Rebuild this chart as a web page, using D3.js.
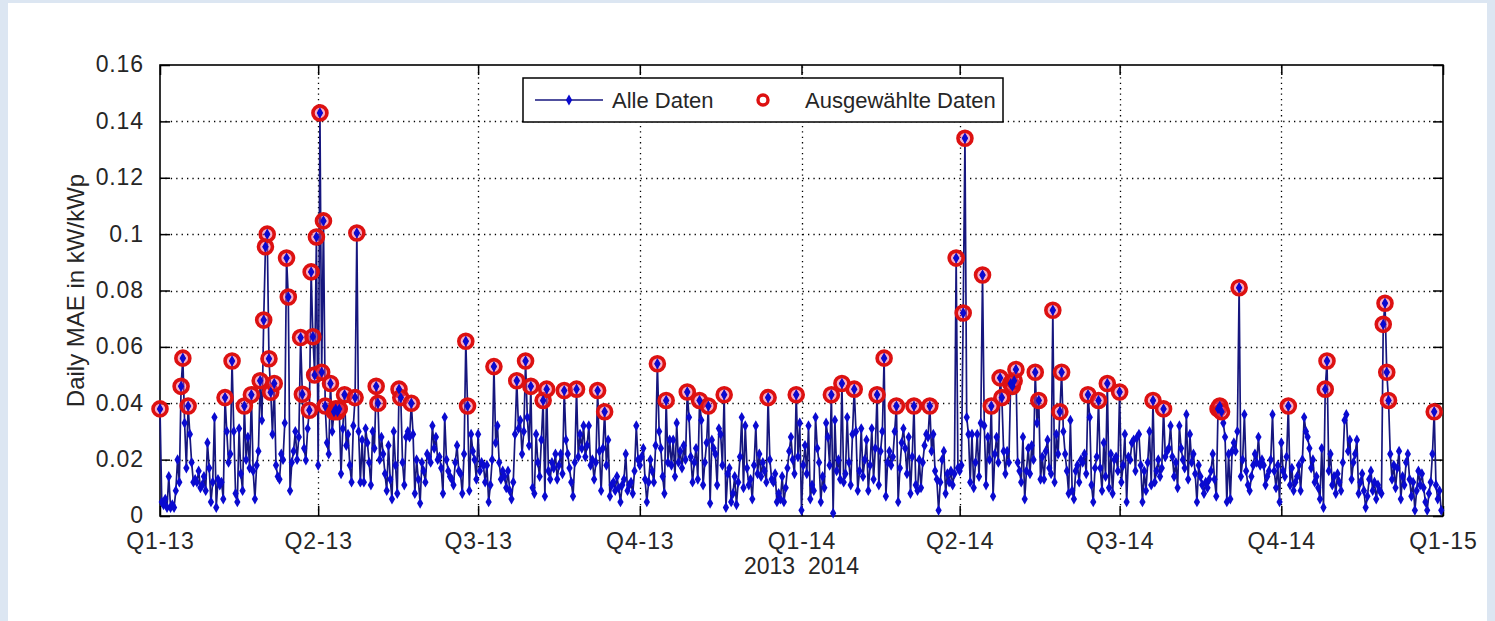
<!DOCTYPE html>
<html>
<head>
<meta charset="utf-8">
<style>
  html, body { margin: 0; padding: 0; background: #fff; }
  svg { display: block; }
  text { font-family: "Liberation Sans", Arial, sans-serif; fill: #262626; }
</style>
</head>
<body>
<svg width="1495" height="621"></svg>
<script src="https://cdn.jsdelivr.net/npm/d3@7/dist/d3.min.js"></script>
<script>

// daily MAE in kW/kWp, one value per day starting 1 Jan
var mae2013 = [
  0.038,0.005,0.004,0.006,0.003,0.014,0.003,0.004,0.003,0.009,
  0.020,0.012,0.046,0.056,0.033,0.017,0.039,0.029,0.019,0.012,
  0.013,0.012,0.016,0.010,0.011,0.014,0.009,0.026,0.017,0.005,
  0.012,0.035,0.003,0.013,0.011,0.012,0.006,0.042,0.030,0.019,
  0.022,0.055,0.030,0.008,0.005,0.031,0.015,0.009,0.039,0.020,
  0.028,0.017,0.043,0.016,0.006,0.018,0.023,0.048,0.034,0.0695,
  0.0955,0.100,0.0558,0.0439,0.029,0.047,0.018,0.014,0.013,0.022,
  0.020,0.033,0.0915,0.0777,0.009,0.019,0.023,0.030,0.020,0.028,
  0.0633,0.0432,0.024,0.0198,0.031,0.0375,0.0866,0.0636,0.050,0.099,
  0.018,0.143,0.051,0.1047,0.039,0.026,0.022,0.047,0.030,0.037,
  0.038,0.037,0.038,0.015,0.031,0.043,0.025,0.029,0.018,0.012,
  0.032,0.042,0.1004,0.030,0.012,0.027,0.012,0.031,0.026,0.019,
  0.011,0.030,0.024,0.046,0.040,0.020,0.028,0.022,0.015,0.009,
  0.025,0.013,0.006,0.030,0.018,0.008,0.045,0.042,0.019,0.011,
  0.028,0.030,0.028,0.040,0.029,0.008,0.020,0.013,0.0045,0.019,
  0.016,0.012,0.022,0.021,0.019,0.032,0.024,0.028,0.020,0.021,
  0.017,0.008,0.035,0.020,0.016,0.014,0.013,0.011,0.019,0.025,
  0.016,0.015,0.008,0.022,0.062,0.039,0.009,0.029,0.023,0.020,
  0.013,0.029,0.016,0.019,0.018,0.012,0.018,0.005,0.011,0.020,
  0.053,0.026,0.032,0.019,0.013,0.016,0.014,0.010,0.016,0.009,
  0.006,0.012,0.029,0.048,0.031,0.034,0.022,0.030,0.055,0.035,
  0.025,0.046,0.010,0.008,0.029,0.019,0.014,0.027,0.041,0.007,
  0.045,0.016,0.013,0.019,0.017,0.022,0.013,0.018,0.022,0.015,
  0.0445,0.027,0.022,0.017,0.012,0.007,0.019,0.045,0.021,0.029,
  0.024,0.032,0.021,0.025,0.032,0.018,0.020,0.013,0.019,0.0445,
  0.023,0.009,0.024,0.037,0.018,0.027,0.007,0.011,0.012,0.009,
  0.014,0.010,0.005,0.011,0.013,0.022,0.009,0.011,0.012,0.008,
  0.016,0.032,0.020,0.018,0.021,0.024,0.013,0.005,0.012,0.020,
  0.016,0.012,0.025,0.054,0.030,0.024,0.014,0.008,0.041,0.019,
  0.027,0.018,0.027,0.014,0.033,0.019,0.023,0.017,0.025,0.020,
  0.044,0.035,0.021,0.012,0.019,0.024,0.013,0.041,0.034,0.011,
  0.019,0.026,0.039,0.0045,0.027,0.024,0.022,0.011,0.031,0.029,
  0.018,0.043,0.003,0.015,0.017,0.005,0.008,0.014,0.004,0.012,
  0.021,0.035,0.010,0.032,0.017,0.011,0.013,0.006,0.018,0.032,
  0.015,0.022,0.014,0.019,0.016,0.012,0.042,0.020,0.013,0.012,
  0.015,0.005,0.008,0.006,0.014,0.005,0.010,0.017,0.023,0.028,
  0.020,0.015,0.043,0.021,0.033
];

var mae2014 = [
  0.002,0.018,0.025,0.015,0.032,0.006,0.011,0.009,0.035,0.024,
  0.019,0.005,0.014,0.010,0.033,0.028,0.018,0.043,0.001,0.034,
  0.016,0.020,0.013,0.047,0.012,0.015,0.035,0.019,0.011,0.029,
  0.045,0.030,0.009,0.016,0.031,0.014,0.020,0.027,0.009,0.018,
  0.031,0.013,0.024,0.043,0.011,0.023,0.030,0.056,0.007,0.019,
  0.023,0.018,0.021,0.030,0.039,0.005,0.017,0.026,0.031,0.024,
  0.015,0.028,0.008,0.021,0.039,0.011,0.009,0.020,0.010,0.019,
  0.025,0.029,0.028,0.039,0.023,0.029,0.016,0.013,0.002,0.012,
  0.020,0.023,0.008,0.015,0.012,0.016,0.011,0.015,0.0915,0.017,
  0.016,0.018,0.072,0.134,0.035,0.029,0.012,0.029,0.010,0.019,
  0.029,0.014,0.033,0.0855,0.032,0.011,0.028,0.020,0.039,0.007,
  0.022,0.028,0.019,0.049,0.042,0.023,0.015,0.023,0.019,0.047,
  0.046,0.048,0.052,0.019,0.016,0.012,0.028,0.006,0.016,0.024,
  0.015,0.025,0.020,0.051,0.033,0.041,0.013,0.021,0.013,0.023,
  0.027,0.017,0.015,0.073,0.012,0.029,0.022,0.037,0.051,0.030,
  0.022,0.016,0.008,0.034,0.009,0.006,0.016,0.018,0.012,0.020,
  0.019,0.022,0.015,0.043,0.035,0.011,0.005,0.017,0.021,0.041,
  0.017,0.009,0.026,0.014,0.047,0.010,0.022,0.008,0.020,0.021,
  0.016,0.044,0.012,0.018,0.029,0.005,0.021,0.020,0.026,0.027,
  0.016,0.028,0.029,0.018,0.005,0.016,0.009,0.019,0.030,0.011,
  0.041,0.012,0.016,0.020,0.014,0.017,0.038,0.021,0.023,0.024,
  0.032,0.021,0.014,0.019,0.010,0.032,0.024,0.020,0.017,0.036,
  0.013,0.029,0.019,0.022,0.015,0.005,0.018,0.014,0.011,0.008,
  0.012,0.010,0.013,0.016,0.022,0.013,0.007,0.038,0.039,0.037,
  0.033,0.028,0.005,0.022,0.006,0.023,0.026,0.023,0.030,0.081,
  0.014,0.020,0.036,0.016,0.011,0.009,0.014,0.018,0.022,0.019,
  0.028,0.018,0.020,0.018,0.011,0.014,0.016,0.020,0.036,0.016,
  0.010,0.018,0.005,0.026,0.016,0.014,0.021,0.039,0.011,0.017,
  0.009,0.012,0.014,0.018,0.009,0.020,0.035,0.030,0.028,0.024,
  0.017,0.020,0.012,0.014,0.010,0.006,0.024,0.003,0.045,0.055,
  0.016,0.022,0.011,0.014,0.008,0.015,0.012,0.009,0.019,0.034,
  0.036,0.023,0.027,0.013,0.019,0.022,0.027,0.008,0.012,0.015,
  0.009,0.003,0.007,0.013,0.016,0.009,0.012,0.006,0.011,0.009,
  0.008,0.068,0.0755,0.051,0.041,0.022,0.013,0.018,0.010,0.017,
  0.023,0.006,0.014,0.011,0.019,0.022,0.013,0.007,0.012,0.002,
  0.009,0.016,0.011,0.015,0.010,0.005,0.002,0.008,0.012,0.022,
  0.037,0.011,0.006,0.009,0.002
];

var quarterLabels = ["Q1-13", "Q2-13", "Q3-13", "Q4-13", "Q1-14", "Q2-14", "Q3-14", "Q4-14", "Q1-15"];
var yTickValues = [0, 0.02, 0.04, 0.06, 0.08, 0.1, 0.12, 0.14, 0.16];
var selectThreshold = 0.0365;   // days marked as "Ausgewählte Daten"

var svg = d3.select("svg"),
    width = +svg.attr("width"),
    height = +svg.attr("height");

var margin = {top: 65, right: 52, bottom: 105, left: 160},
    x0 = margin.left, x1 = width - margin.right,
    y0 = height - margin.bottom, y1 = margin.top;

var start = new Date(2013, 0, 1),
    end = new Date(2015, 0, 1);

var data = mae2013.concat(mae2014).map(function(v, i) {
  return {date: d3.timeDay.offset(start, i), value: v};
});
var selected = data.filter(function(d) { return d.value >= selectThreshold; });

var x = d3.scaleTime().domain([start, end]).range([x0, x1]);
var y = d3.scaleLinear().domain([0, 0.16]).range([y0, y1]);
var quarters = d3.timeMonth.every(3).range(start, d3.timeDay.offset(end, 1));

// figure background
svg.append("rect").attr("width", width).attr("height", height).attr("fill", "#dce6f2");
svg.append("rect").attr("x", 8).attr("y", 3).attr("width", width - 16).attr("height", height - 3).attr("fill", "#fff");

// dotted grid
var grid = svg.append("g")
    .attr("stroke", "#000")
    .attr("stroke-width", 1.3)
    .attr("stroke-dasharray", "1.3,4.1");

grid.selectAll("line.v")
  .data(quarters.slice(1, -1))
  .enter().append("line")
    .attr("x1", function(d) { return Math.round(x(d)) + 0.5; })
    .attr("x2", function(d) { return Math.round(x(d)) + 0.5; })
    .attr("y1", y0).attr("y2", y1);

grid.selectAll("line.h")
  .data(yTickValues.slice(1, -1))
  .enter().append("line")
    .attr("y1", function(d) { return Math.round(y(d)) + 0.5; })
    .attr("y2", function(d) { return Math.round(y(d)) + 0.5; })
    .attr("x1", x0).attr("x2", x1);

// axes, MATLAB style: inward ticks on all four sides
var tickLen = 10;
var fmtY = function(d) { return String(+d.toFixed(2)); };

svg.append("g")
    .attr("transform", "translate(0," + y0 + ")")
    .call(d3.axisBottom(x).tickValues(quarters).tickSize(-tickLen).tickPadding(tickLen + 7)
      .tickFormat(function(d, i) { return quarterLabels[i]; }));

var gy = svg.append("g")
    .attr("transform", "translate(" + x0 + ",0)")
    .call(d3.axisLeft(y).tickValues(yTickValues).tickSize(-tickLen).tickPadding(tickLen + 6).tickFormat(fmtY));
gy.selectAll(".tick text").attr("dy", "0.3em");

svg.append("g")
    .attr("transform", "translate(0," + y1 + ")")
    .call(d3.axisTop(x).tickValues(quarters).tickSize(-tickLen).tickFormat(""));

svg.append("g")
    .attr("transform", "translate(" + x1 + ",0)")
    .call(d3.axisRight(y).tickValues(yTickValues).tickSize(-tickLen).tickFormat(""));

svg.selectAll(".domain").remove();
svg.selectAll(".tick line").attr("stroke", "#000").attr("stroke-width", 1.5);
svg.selectAll(".tick text")
    .attr("font-family", "Liberation Sans, Arial, sans-serif")
    .attr("font-size", 23)
    .attr("letter-spacing", 0.9)
    .attr("fill", "#2a2a2a");

svg.append("rect")
    .attr("x", x0).attr("y", y1)
    .attr("width", x1 - x0).attr("height", y0 - y1)
    .attr("fill", "none")
    .attr("stroke", "#000")
    .attr("stroke-width", 1.6);

// series
var line = d3.line()
    .x(function(d) { return x(d.date); })
    .y(function(d) { return y(d.value); });

svg.append("path")
    .datum(data)
    .attr("fill", "none")
    .attr("stroke", "#16167e")
    .attr("stroke-width", 1.7)
    .attr("d", line);

var diamond = d3.symbol().type(d3.symbolDiamond).size(34);

svg.append("g")
    .attr("fill", "#0a0ad0")
  .selectAll("path")
  .data(data)
  .enter().append("path")
    .attr("transform", function(d) { return "translate(" + x(d.date) + "," + y(d.value) + ")"; })
    .attr("d", diamond);

svg.append("g")
    .attr("fill", "#e8508a")
    .attr("fill-opacity", 0.45)
    .attr("stroke", "#dd1111")
    .attr("stroke-width", 3.6)
  .selectAll("circle")
  .data(selected)
  .enter().append("circle")
    .attr("cx", function(d) { return x(d.date); })
    .attr("cy", function(d) { return y(d.value); })
    .attr("r", 7);

// blue markers stay visible inside the red rings
svg.append("g")
    .attr("fill", "#0a0ad0")
  .selectAll("path")
  .data(selected)
  .enter().append("path")
    .attr("transform", function(d) { return "translate(" + x(d.date) + "," + y(d.value) + ")"; })
    .attr("d", diamond);

// labels
svg.append("text")
    .attr("transform", "translate(" + 84 + "," + ((y0 + y1) / 2) + ") rotate(-90)")
    .attr("text-anchor", "middle")
    .attr("font-size", 24)
    .text("Daily MAE in kW/kWp");

svg.append("text")
    .attr("x", (x0 + x1) / 2)
    .attr("y", 574)
    .attr("text-anchor", "middle")
    .attr("font-size", 23)
    .style("white-space", "pre")
    .text("2013  2014");

// legend
var legend = svg.append("g").attr("transform", "translate(523,78)");

legend.append("rect")
    .attr("width", 480).attr("height", 44)
    .attr("fill", "#fff")
    .attr("stroke", "#000")
    .attr("stroke-width", 1.5);

legend.append("line")
    .attr("x1", 12).attr("x2", 80).attr("y1", 22).attr("y2", 22)
    .attr("stroke", "#16167e").attr("stroke-width", 1.7);

legend.append("path")
    .attr("transform", "translate(46,22)")
    .attr("fill", "#0a0ad0")
    .attr("d", diamond);

legend.append("text")
    .attr("x", 89).attr("y", 22).attr("dy", "0.35em")
    .attr("font-size", 22)
    .text("Alle Daten");

legend.append("circle")
    .attr("cx", 240).attr("cy", 22).attr("r", 5)
    .attr("fill", "none")
    .attr("stroke", "#dd1111")
    .attr("stroke-width", 3.4);

legend.append("text")
    .attr("x", 282).attr("y", 22).attr("dy", "0.35em")
    .attr("font-size", 22)
    .text("Ausgewählte Daten");

</script>
</body>
</html>
